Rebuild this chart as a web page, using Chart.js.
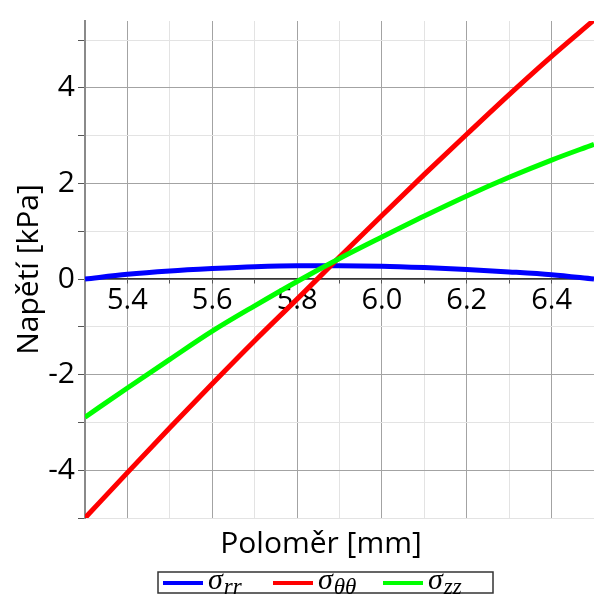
<!DOCTYPE html>
<html>
<head>
<meta charset="utf-8">
<script src="https://cdn.jsdelivr.net/npm/chart.js@4"></script>
<style>
    html, body { margin: 0; padding: 0; background: #fff; }
    #wrap { width: 594px; height: 596px; }
</style>
</head>
<body>
<div id="wrap"><canvas id="stressChart" width="594" height="596"></canvas></div>
<script>
// radius [mm]
const radius = [5.3, 5.4, 5.5, 5.6, 5.7, 5.8, 5.9, 6.0, 6.1, 6.2, 6.3, 6.4, 6.5];
// stress components [kPa]
const sigmaRR = [0, 0.10, 0.17, 0.22, 0.26, 0.28, 0.28, 0.27, 0.24, 0.20, 0.15, 0.09, 0];
const sigmaTT = [-5.0, -4.05, -3.11, -2.19, -1.29, -0.42, 0.46, 1.33, 2.19, 3.03, 3.86, 4.66, 5.42];
const sigmaZZ = [-2.89, -2.28, -1.68, -1.09, -0.56, -0.05, 0.43, 0.88, 1.32, 1.74, 2.13, 2.49, 2.82];

const seriesSymbols = ['σ', 'σ', 'σ'];
const seriesSubs = ['rr', 'θθ', 'zz'];
const seriesColors = ['#0000ff', '#ff0000', '#00ff00'];

const xTitle = 'Poloměr [mm]';
const yTitle = 'Napětí [kPa]';

const textFont = '"Open Sans", "DejaVu Sans", sans-serif';
const mathFont = '"Liberation Serif", "DejaVu Serif", serif';

function toPoints(ys) {
    return radius.map((r, i) => ({ x: r, y: ys[i] }));
}

// odd tenths / odd integers get the faint grid line
function isMajorX(v) { return Math.round(v * 10) % 2 === 0; }
function isMajorY(v) { return Math.round(v) % 2 === 0; }

// x title and the boxed legend below the plot
const bottomDecor = {
    id: 'bottomDecor',
    afterDraw(chart) {
        const ctx = chart.ctx;
        const area = chart.chartArea;
        ctx.save();
        ctx.fillStyle = '#000';
        ctx.font = '30px ' + textFont;
        ctx.textAlign = 'center';
        ctx.textBaseline = 'middle';
        ctx.fillText(xTitle, 321, area.bottom + 26);

        // legend box
        const bx = 158, by = area.bottom + 54, bw = 335, bh = 21;
        ctx.strokeStyle = '#333';
        ctx.lineWidth = 1.5;
        ctx.strokeRect(bx, by, bw, bh);

        chart.data.datasets.forEach((ds, i) => {
            const x0 = bx + 5 + i * 110;
            const yMid = by + 11;
            ctx.strokeStyle = seriesColors[i];
            ctx.lineWidth = 4;
            ctx.beginPath();
            ctx.moveTo(x0, yMid);
            ctx.lineTo(x0 + 40, yMid);
            ctx.stroke();

            ctx.fillStyle = '#000';
            ctx.textAlign = 'left';
            ctx.textBaseline = 'alphabetic';
            ctx.font = 'italic 30px ' + mathFont;
            ctx.fillText(seriesSymbols[i], x0 + 45, yMid + 6);
            const w = ctx.measureText(seriesSymbols[i]).width;
            ctx.font = 'italic 23px ' + mathFont;
            ctx.fillText(seriesSubs[i], x0 + 46 + w, yMid + 11);
        });
        ctx.restore();
    }
};

new Chart(document.getElementById('stressChart'), {
    type: 'line',
    data: {
        datasets: [
            { label: 'σrr', data: toPoints(sigmaRR), borderColor: seriesColors[0], order: 2 },
            { label: 'σθθ', data: toPoints(sigmaTT), borderColor: seriesColors[1], order: 1 },
            { label: 'σzz', data: toPoints(sigmaZZ), borderColor: seriesColors[2], order: 0 }
        ]
    },
    options: {
        responsive: false,
        animation: false,
        layout: { padding: { left: 0, top: 13, right: 0, bottom: 78 } },
        elements: {
            line: { borderWidth: 5, cubicInterpolationMode: 'monotone', fill: false },
            point: { radius: 0, hoverRadius: 0 }
        },
        plugins: {
            legend: { display: false },
            tooltip: { enabled: false }
        },
        scales: {
            x: {
                type: 'linear',
                position: { y: 0 },
                min: 5.3,
                max: 6.5,
                ticks: {
                    stepSize: 0.1,
                    padding: 0,
                    autoSkip: false,
                    maxRotation: 0,
                    color: '#000',
                    font: { family: textFont, size: 29 },
                    callback: v => isMajorX(v) && v > 5.31 && v < 6.49 ? v.toFixed(1) : ''
                },
                grid: {
                    color: c => c.tick && isMajorX(c.tick.value) ? '#a3a3a3' : '#e3e3e3',
                    tickColor: '#555',
                    tickLength: 4,
                    lineWidth: 1
                },
                border: { color: '#333', width: 1.5 }
            },
            y: {
                min: -5,
                max: 5.4,
                afterFit: scale => { scale.width = 85; },
                ticks: {
                    stepSize: 1,
                    includeBounds: false,
                    padding: 3,
                    color: '#000',
                    font: { family: textFont, size: 30 },
                    callback: v => isMajorY(v) ? String(v) : ''
                },
                grid: {
                    color: c => c.tick && isMajorY(c.tick.value) ? '#a3a3a3' : '#e3e3e3',
                    tickColor: '#555',
                    tickLength: 7,
                    lineWidth: 1
                },
                border: { color: '#8a8a8a', width: 2 },
                title: {
                    display: true,
                    text: yTitle,
                    color: '#000',
                    padding: { top: 11, bottom: 0 },
                    font: { family: textFont, size: 30 }
                }
            }
        }
    },
    plugins: [bottomDecor]
});
</script>
</body>
</html>
